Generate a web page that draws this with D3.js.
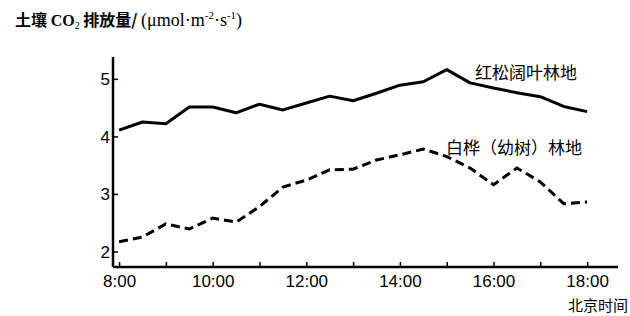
<!DOCTYPE html>
<html>
<head>
<meta charset="utf-8">
<script src="https://cdn.jsdelivr.net/npm/d3@7"></script>
<style>
  body { margin: 0; background: #fff; }
  svg { display: block; }
</style>
</head>
<body>
<div id="chart"></div>
<script>
// half-hour readings, 8:00 - 18:00
var hours = [8, 8.5, 9, 9.5, 10, 10.5, 11, 11.5, 12, 12.5, 13, 13.5, 14, 14.5, 15, 15.5, 16, 16.5, 17, 17.5, 18];
var pineValues = [4.11, 4.25, 4.22, 4.51, 4.51, 4.41, 4.56, 4.46, 4.58, 4.70, 4.62, 4.75, 4.89, 4.95, 5.16, 4.93, 4.84, 4.76, 4.69, 4.52, 4.43];
var birchValues = [2.17, 2.25, 2.48, 2.39, 2.58, 2.51, 2.78, 3.12, 3.24, 3.42, 3.43, 3.59, 3.68, 3.78, 3.65, 3.45, 3.16, 3.45, 3.21, 2.83, 2.86];
var xTicks = [8, 9, 10, 11, 12, 13, 14, 15, 16, 17, 18];
var yTicks = [2, 3, 4, 5];
var pineLabel = "红松阔叶林地";
var birchLabel = "白桦（幼树）林地";

var width = 630, height = 316;
var svg = d3.select("#chart").append("svg").attr("width", width).attr("height", height);

var x = d3.scaleLinear().domain([7.87, 18.66]).range([113, 618]);
var y = d3.scaleLinear().domain([1.73, 5.38]).range([267, 57]);

var fmt = function(h){ return h % 2 == 0 ? h + ":00" : ""; };

// x axis, ticks point inward
var xAxis = svg.append("g").attr("transform", "translate(0," + y.range()[0] + ")")
  .call(d3.axisTop(x).tickValues(xTicks).tickSize(5).tickFormat(""));
xAxis.select(".domain").attr("d", "M" + x.range()[0] + ",0H" + x.range()[1]).attr("stroke-width", 2.5);
xAxis.selectAll(".tick line").attr("stroke-width", 1.5);
xAxis.selectAll(".tick").append("text")
  .attr("y", 20).attr("fill", "#000").attr("text-anchor", "middle")
  .style("font", "17px 'Liberation Sans', Arial, sans-serif")
  .text(fmt);

// y axis
var yAxis = svg.append("g").attr("transform", "translate(" + x.range()[0] + ",0)")
  .call(d3.axisRight(y).tickValues(yTicks).tickSize(5).tickFormat(""));
yAxis.select(".domain").attr("d", "M0," + y.range()[0] + "V" + y.range()[1]).attr("stroke-width", 2.5);
yAxis.selectAll(".tick line").attr("stroke-width", 1.5);
yAxis.selectAll(".tick").append("text")
  .attr("x", -3).attr("dy", "0.35em").attr("fill", "#000").attr("text-anchor", "end")
  .style("font", "17px 'Liberation Sans', Arial, sans-serif")
  .text(d=>d);

var line = d3.line().x((d,i)=>x(hours[i])).y(d=>y(d));

svg.append("path").datum(pineValues).attr("d", line)
  .attr("fill", "none").attr("stroke", "#000").attr("stroke-width", 3).attr("stroke-linejoin", "round");
svg.append("path").datum(birchValues).attr("d", line)
  .attr("fill", "none").attr("stroke", "#000").attr("stroke-width", 3).attr("stroke-dasharray", "9,5");

var cjk = "'Noto Sans CJK SC', sans-serif";
svg.append("text").attr("x", 475).attr("y", 79).style("font-family", cjk).style("font-size", "17px").text(pineLabel);
svg.append("text").attr("x", 446).attr("y", 154).style("font-family", cjk).style("font-size", "17px").text(birchLabel);
svg.append("text").attr("x", 628).attr("y", 311).attr("text-anchor", "end").style("font-family", cjk).style("font-size", "15px").text("北京时间");

// title with units
var serif = "'Liberation Serif', serif";
var title = svg.append("text").attr("x", 15).attr("y", 26).style("font-size", "16px");
title.append("tspan").style("font-family", cjk).style("font-weight", "bold").text("土壤 ");
title.append("tspan").style("font-family", serif).style("font-weight", "bold").style("font-size", "16px").text("CO");
title.append("tspan").style("font-family", serif).style("font-size", "10px").attr("dy", 3).text("2");
title.append("tspan").style("font-family", cjk).style("font-weight", "bold").attr("dy", -3).text(" 排放量/ ");
title.append("tspan").style("font-family", serif).style("font-size", "18px").text("(μmol·m");
title.append("tspan").style("font-family", serif).style("font-size", "11px").attr("dy", -7).text("-2");
title.append("tspan").style("font-family", serif).style("font-size", "18px").attr("dy", 7).text("·s");
title.append("tspan").style("font-family", serif).style("font-size", "11px").attr("dy", -7).text("-1");
title.append("tspan").style("font-family", serif).style("font-size", "18px").attr("dy", 7).text(")");
</script>
</body>
</html>
